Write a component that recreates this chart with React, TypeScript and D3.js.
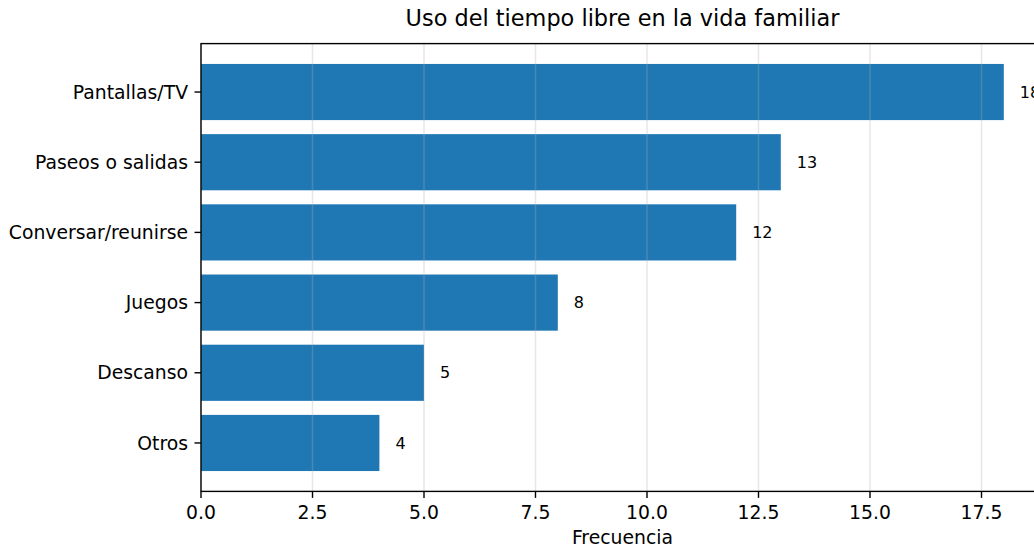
import React from "react";
import * as d3 from "d3";

const categories = ["Pantallas/TV", "Paseos o salidas", "Conversar/reunirse", "Juegos", "Descanso", "Otros"];
const values = [18, 13, 12, 8, 5, 4];
const xTicks = [0, 2.5, 5, 7.5, 10, 12.5, 15, 17.5];

const W = 1034;
const H = 548;
const left = 201;
const top = 43.6;
const bottom = 491.4;
const xMax = 18.9;
const pxPerUnit = 44.6;
const right = left + xMax * pxPerUnit;
const FONT = "DejaVu Sans, sans-serif";

export default function App() {
  const x = d3.scaleLinear().domain([0, xMax]).range([left, right]);
  const y = d3.scaleLinear().domain([-0.69, 5.69]).range([top, bottom]);
  const barH = y(0.4) - y(-0.4);
  return (
    <svg width={W} height={H} style={{ position: "absolute", left: 0, top: 0 }} fontFamily={FONT}>
      <rect x={0} y={0} width={W} height={H} fill="#fff" />
      {categories.map((c, i) => (
        <rect key={c} x={x(0)} y={y(i - 0.4)} width={x(values[i]) - x(0)} height={barH} fill="#1f77b4" />
      ))}
      {xTicks.map((t) => (
        <line key={"g" + t} x1={x(t)} x2={x(t)} y1={top} y2={bottom} stroke="#b0b0b0" strokeOpacity={0.3} strokeWidth={1.5} />
      ))}
      {categories.map((c, i) => (
        <text key={"v" + c} x={x(values[i]) + 16} y={y(i)} dy="0.35em" fontSize={16} fill="#000">
          {values[i]}
        </text>
      ))}
      <rect x={left} y={top} width={right - left} height={bottom - top} fill="none" stroke="#000" strokeWidth={1.4} />
      {xTicks.map((t) => (
        <g key={"t" + t}>
          <line x1={x(t)} x2={x(t)} y1={bottom} y2={bottom + 6.5} stroke="#000" strokeWidth={1.4} />
          <text x={x(t)} y={bottom + 13} dy="0.76em" textAnchor="middle" fontSize={18.8} fill="#000">
            {t.toFixed(1)}
          </text>
        </g>
      ))}
      {categories.map((c, i) => (
        <g key={"y" + c}>
          <line x1={left - 6.5} x2={left} y1={y(i)} y2={y(i)} stroke="#000" strokeWidth={1.4} />
          <text x={left - 13} y={y(i)} dy="0.35em" textAnchor="end" fontSize={18.8} fill="#000">
            {c}
          </text>
        </g>
      ))}
      <text x={(left + right) / 2} y={537} dy="0.35em" textAnchor="middle" fontSize={18.8} fill="#000">
        Frecuencia
      </text>
      <text x={(left + right) / 2} y={18} dy="0.35em" textAnchor="middle" fontSize={22.4} fill="#000">
        Uso del tiempo libre en la vida familiar
      </text>
    </svg>
  );
}
